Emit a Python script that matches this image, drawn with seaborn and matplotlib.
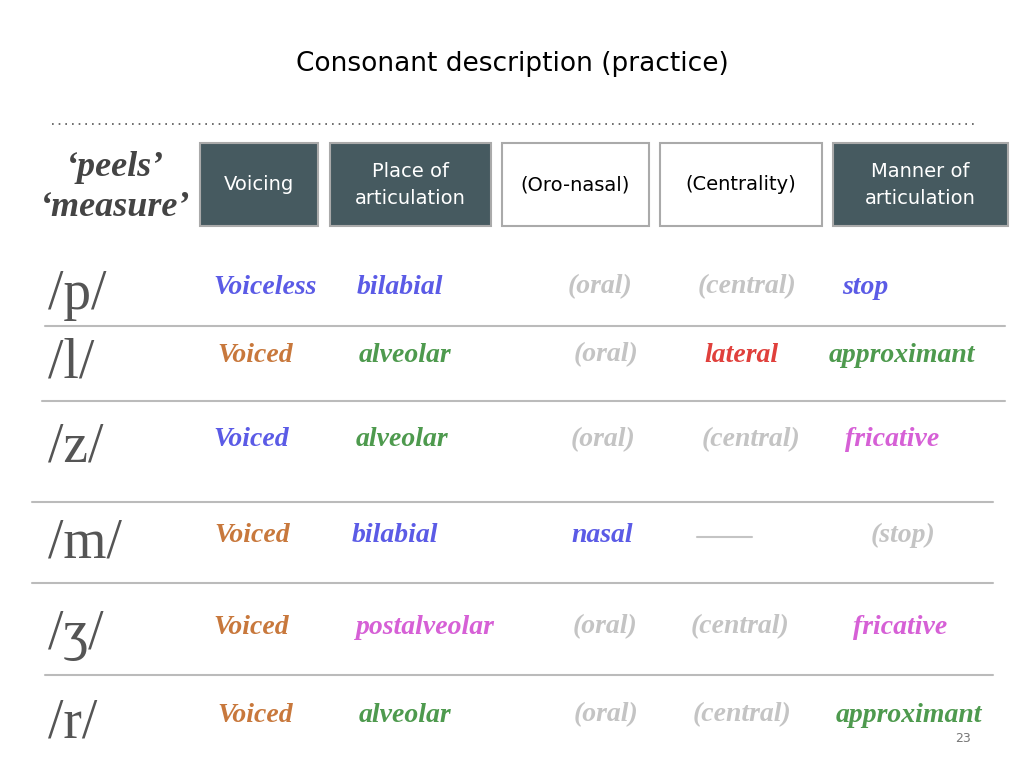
import matplotlib
matplotlib.use("Agg")
import matplotlib.pyplot as plt
import matplotlib.patches as patches
import seaborn as sns

sns.set_theme(style="white")
plt.rcParams["font.family"] = ["DejaVu Sans"]

# slide content
title = "Consonant description (practice)"
headers = ["Voicing", "Place of\narticulation", "(Oro-nasal)", "(Centrality)", "Manner of\narticulation"]
header_dark = [True, True, False, False, True]
phonemes = ["/p/", "/l/", "/z/", "/m/", "/ʒ/", "/r/"]
voicing = ["Voiceless", "Voiced", "Voiced", "Voiced", "Voiced", "Voiced"]
place = ["bilabial", "alveolar", "alveolar", "bilabial", "postalveolar", "alveolar"]
oronasal = ["(oral)", "(oral)", "(oral)", "nasal", "(oral)", "(oral)"]
centrality = ["(central)", "lateral", "(central)", "—", "(central)", "(central)"]
manner = ["stop", "approximant", "fricative", "(stop)", "fricative", "approximant"]

BLUE, ORANGE, GREEN = "#5b5be6", "#c8783c", "#4e9a4e"
GREY, RED, PINK = "#c4c4c4", "#e0403c", "#d660d6"
voicing_c = [BLUE, ORANGE, BLUE, ORANGE, ORANGE, ORANGE]
place_c = [BLUE, GREEN, GREEN, BLUE, PINK, GREEN]
oronasal_c = [GREY, GREY, GREY, BLUE, GREY, GREY]
centrality_c = [GREY, RED, GREY, GREY, GREY, GREY]
manner_c = [BLUE, GREEN, PINK, GREY, PINK, GREEN]

# layout (pixels)
row_y = [287, 355, 440, 535, 627, 715]
col_x = [
    [265, 255, 251, 252, 251, 255],
    [400, 405, 402, 395, 425, 405],
    [600, 606, 603, 602, 605, 606],
    [747, 741, 751, 724, 740, 742],
    [865, 902, 892, 903, 900, 909],
]
seps = [(326, 45, 1005), (401, 42, 1005), (502, 32, 993), (583, 32, 993), (675, 45, 993)]
boxes = [(200, 318), (330, 491), (502, 649), (660, 822), (833, 1008)]

fig = plt.figure(figsize=(10.24, 7.68), dpi=100)
ax = fig.add_axes([0, 0, 1, 1])
ax.set_xlim(0, 1024)
ax.set_ylim(768, 0)
ax.axis("off")

ax.text(512, 64, title, ha="center", va="center", fontsize=19, color="black")
ax.plot([52, 975], [124, 124], ls=(0, (1, 3)), color="#555555", lw=1.2)

serif = "Liberation Serif"
ax.text(115, 167, "‘peels’", ha="center", va="center", fontsize=26, style="italic",
        fontweight="bold", family=serif, color="#444444")
ax.text(115, 208, "‘measure’", ha="center", va="center", fontsize=26, style="italic",
        fontweight="bold", family=serif, color="#444444")

for (x0, x1), lab, dark in zip(boxes, headers, header_dark):
    ax.add_patch(patches.Rectangle((x0, 143), x1 - x0, 83,
                                   facecolor="#465a60" if dark else "white",
                                   edgecolor="#aaaaaa", lw=1.5))
    ax.text((x0 + x1) / 2, 185, lab, ha="center", va="center", fontsize=14,
            color="white" if dark else "black", linespacing=1.5)

for y, xa, xb in seps:
    ax.plot([xa, xb], [y, y], color="#bbbbbb", lw=1.5)

cols = [(voicing, voicing_c), (place, place_c), (oronasal, oronasal_c),
        (centrality, centrality_c), (manner, manner_c)]
for i, (ph, y) in enumerate(zip(phonemes, row_y)):
    ax.text(48, y + 8, ph, ha="left", va="center", fontsize=40, family=serif, color="#555555")
    for j, (vals, cs) in enumerate(cols):
        if vals[i] == "—":
            ax.plot([697, 752], [y + 2, y + 2], color=GREY, lw=1.5)
            continue
        ax.text(col_x[j][i], y, vals[i], ha="center", va="center", fontsize=20,
                style="italic", fontweight="bold", family=serif, color=cs[i])

ax.text(963, 738, "23", ha="center", va="center", fontsize=9, color="#777777")

fig.savefig("out.png", dpi=100)
